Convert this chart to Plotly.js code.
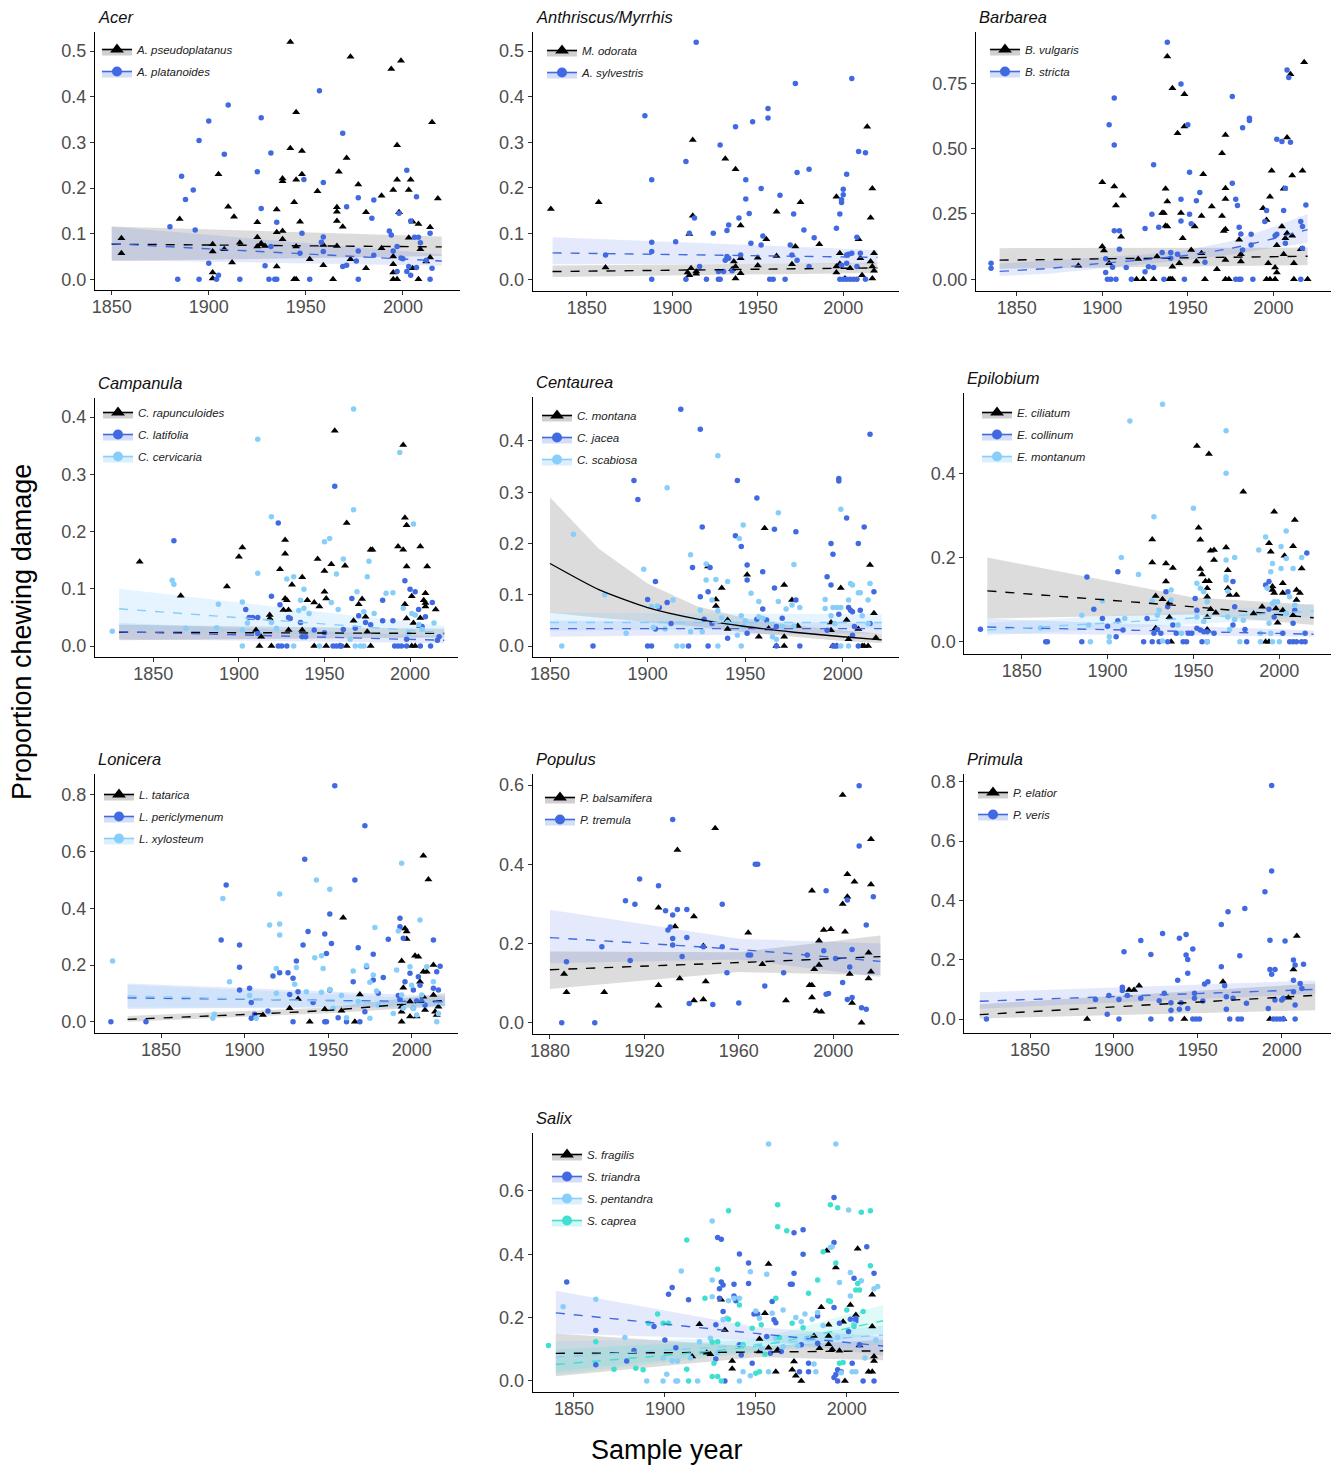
<!DOCTYPE html>
<html><head><meta charset="utf-8">
<script src="https://cdn.plot.ly/plotly-3.0.1.min.js"></script>
<style>body{margin:0;background:#fff}#chart{width:1332px;height:1467px}</style>
</head><body><div id="chart"></div>
<script>
// ---------- DATA: [year, proportion] ; fits: [year, fit, lower, upper] ----------
const acer_pseudo=[[1855,0.090],[1855,0.057],[1885,0.132],[1902,0.077],[1902,0.061],[1902,0.015],[1902,0.002],[1905,0.230],[1910,0.159],[1912,0.037],[1913,0.137],[1908,0.066],[1916,0.080],[1925,0.125],[1925,0.092],[1925,0.072],[1927,0.079],[1929,0.073],[1935,0.153],[1935,0.103],[1935,0.028],[1938,0.106],[1938,0.088],[1938,0.221],[1938,0.215],[1942,0.520],[1942,0.287],[1944,0.169],[1945,0.366],[1945,0.218],[1945,0.072],[1944,0],[1945,0],[1947,0.126],[1948,0.281],[1948,0.230],[1952,0.044],[1956,0.193],[1959,0.031],[1959,0.075],[1964,0],[1966,0.158],[1966,0.148],[1966,0.128],[1966,0.073],[1967,0.236],[1969,0.115],[1971,0.266],[1973,0.488],[1973,0.044],[1977,0.208],[1981,0.147],[1981,0.024],[1989,0.183],[1989,0.068],[1994,0.461],[1995,0.196],[1995,0.050],[1995,0.033],[1995,0.015],[1995,0],[1997,0],[1997,0.294],[1997,0.218],[1998,0.147],[1999,0.479],[2003,0.091],[2003,0.196],[2004,0.218],[2005,0.126],[2005,0.024],[2008,0.121],[2008,0],[2009,0.066],[2012,0.039],[2014,0.114],[2014,0.048],[2015,0.344],[2018,0.177]];
const acer_plat=[[1880,0.115],[1884,0],[1886,0.226],[1888,0.175],[1892,0.196],[1893,0.108],[1895,0.304],[1895,0],[1900,0.347],[1900,0.035],[1904,0],[1905,0.009],[1908,0.274],[1910,0.382],[1916,0],[1925,0.236],[1927,0.354],[1927,0.155],[1929,0.030],[1931,0],[1934,0],[1935,0],[1932,0.277],[1932,0.072],[1935,0.125],[1948,0.101],[1949,0.219],[1947,0.057],[1952,0],[1957,0.413],[1958,0.081],[1959,0.093],[1959,0.212],[1959,0.061],[1969,0.320],[1969,0.028],[1971,0.031],[1971,0.159],[1976,0.040],[1977,0.179],[1977,0],[1977,0.062],[1985,0.174],[1985,0.053],[1984,0.134],[1993,0.106],[1994,0.097],[1995,0.062],[1997,0.017],[1997,0.072],[1998,0.145],[1999,0.047],[2000,0.045],[2002,0.239],[2002,0.017],[2003,0.028],[2004,0.128],[2004,0.009],[2006,0.092],[2007,0.026],[2007,0.181],[2008,0.092],[2009,0.080],[2012,0.042],[2014,0.101],[2014,0],[2015,0.024]];
const acer_pseudo_fit=[[1850,0.077,0.040,0.116],[2020,0.071,0.051,0.094]];
const acer_plat_fit=[[1850,0.078,0.042,0.115],[2020,0.040,0.030,0.055]];

const anth_odorata=[[1829,0.154],[1857,0.169],[1861,0.026],[1909,0.015],[1910,0.009],[1911,0.024],[1910,0.099],[1912,0.305],[1912,0.139],[1914,0.017],[1914,0.012],[1931,0.264],[1935,0.022],[1936,0.039],[1937,0.241],[1937,0.002],[1937,0.028],[1940,0.118],[1940,0.046],[1940,0.013],[1950,0.047],[1950,0.030],[1955,0.088],[1961,0.148],[1961,0.051],[1970,0.033],[1972,0.072],[1975,0.169],[1986,0.077],[1996,0.181],[1996,0.015],[1996,0.028],[1998,0.057],[1998,0.034],[2001,0.002],[2004,0.024],[2009,0.088],[2010,0.046],[2011,0.009],[2014,0.334],[2016,0.135],[2017,0.199],[2016,0.039],[2017,0.028],[2018,0.057],[2018,0.019],[2017,0.002]];
const anth_sylvestris=[[1861,0.053],[1884,0.358],[1888,0.218],[1888,0.081],[1888,0.061],[1888,0],[1902,0.082],[1908,0.258],[1908,0],[1910,0.101],[1913,0.134],[1914,0.519],[1916,0.028],[1920,0],[1924,0.101],[1927,0],[1928,0],[1927,0.017],[1928,0.294],[1930,0.017],[1931,0.042],[1932,0.107],[1933,0.119],[1932,0.050],[1933,0.046],[1935,0.019],[1937,0.334],[1939,0.134],[1940,0.053],[1943,0.218],[1943,0.176],[1945,0.144],[1947,0.345],[1946,0.079],[1952,0.199],[1952,0.075],[1953,0.095],[1956,0.374],[1956,0.353],[1957,0],[1959,0],[1963,0.184],[1966,0],[1969,0.075],[1970,0.053],[1971,0.143],[1972,0.429],[1973,0.042],[1973,0.234],[1977,0.108],[1980,0.241],[1980,0.028],[1983,0.091],[1996,0.112],[1998,0.143],[1999,0.168],[1999,0.174],[2000,0.185],[2000,0.197],[2002,0.230],[2002,0.053],[1998,0],[2000,0],[2002,0],[2004,0],[2006,0],[2008,0],[1999,0.031],[2002,0.035],[2003,0.055],[2005,0.440],[2005,0.057],[2008,0.092],[2009,0.280],[2008,0.028],[2010,0.057],[2013,0.277],[2013,0]];
const anth_odorata_fit=[[1830,0.017,0.005,0.030],[2020,0.025,0.014,0.036]];
const anth_sylvestris_fit=[[1830,0.058,0.033,0.092],[2020,0.048,0.035,0.064]];

const barb_vulgaris=[[1900,0.371],[1900,0.125],[1901,0.110],[1904,0.061],[1907,0.355],[1908,0.282],[1912,0.319],[1911,0.163],[1886,0.052],[1920,0],[1924,0],[1930,0],[1921,0.077],[1932,0.087],[1935,0.253],[1936,0.253],[1937,0.346],[1938,0.297],[1937,0.205],[1938,0.202],[1938,0.852],[1939,0],[1941,0],[1940,0],[1941,0.731],[1941,0.048],[1944,0.559],[1946,0.253],[1945,0.061],[1947,0.157],[1948,0.708],[1948,0.584],[1952,0.112],[1954,0.202],[1955,0.068],[1958,0.242],[1959,0.402],[1958,0.099],[1960,0],[1964,0.278],[1967,0.038],[1970,0.242],[1970,0.482],[1971,0.185],[1972,0.191],[1972,0.552],[1972,0.348],[1972,0.307],[1972,0.074],[1972,0],[1974,0],[1980,0.151],[1981,0.068],[1981,0.096],[1994,0.272],[1996,0.227],[1997,0.061],[1996,0],[1998,0],[2001,0],[1998,0.316],[1999,0.415],[2001,0.045],[2002,0.130],[2002,0.026],[2005,0.202],[2006,0.096],[2006,0.346],[2007,0.157],[2008,0.176],[2008,0.542],[2010,0.784],[2011,0.397],[2011,0.166],[2012,0.061],[2012,0],[2017,0.415],[2018,0.830],[2020,0],[2016,0.115]];
const barb_stricta=[[1835,0.061],[1835,0.042],[1902,0.078],[1902,0.026],[1904,0.591],[1903,0],[1905,0],[1908,0],[1906,0.046],[1907,0.693],[1907,0.514],[1907,0.186],[1910,0.186],[1910,0.115],[1914,0.045],[1917,0],[1925,0.194],[1925,0.029],[1927,0.048],[1929,0.249],[1930,0.438],[1930,0.045],[1933,0.199],[1935,0.102],[1936,0],[1938,0.907],[1940,0.102],[1940,0.080],[1944,0.096],[1946,0.747],[1946,0.306],[1946,0.223],[1948,0],[1950,0.591],[1951,0.249],[1952,0.212],[1951,0.409],[1955,0.300],[1957,0.332],[1960,0.065],[1976,0.367],[1976,0.699],[1978,0.306],[1979,0.282],[1978,0],[1980,0],[1981,0],[1980,0.199],[1981,0.173],[1982,0.112],[1982,0.580],[1986,0.616],[1986,0.607],[1987,0.172],[1987,0.131],[1988,0],[1995,0.221],[1996,0.263],[2002,0.536],[2001,0.166],[2002,0.172],[2005,0.527],[2006,0.263],[2007,0.138],[2007,0.348],[2008,0.801],[2009,0.772],[2010,0.524],[2016,0.221],[2017,0.202],[2017,0.119],[2016,0],[2019,0.284]];
const barb_vulgaris_fit=[[1840,0.073,0.040,0.119],[2020,0.088,0.054,0.121]];
const barb_stricta_fit=[[1840,0.030,0.012,0.060],[1870,0.042,0.022,0.072],[1900,0.061,0.042,0.085],[1925,0.075,0.058,0.095],[1950,0.092,0.074,0.112],[1975,0.118,0.095,0.145],[2000,0.155,0.120,0.200],[2020,0.190,0.140,0.250]];

const camp_rapunc=[[1842,0.147],[1866,0.088],[1893,0.104],[1900,0.156],[1902,0.172],[1910,0.028],[1912,0],[1913,0.016],[1918,0.054],[1918,0.048],[1919,0],[1924,0.134],[1927,0.185],[1927,0.161],[1927,0.083],[1928,0.080],[1929,0.063],[1929,0.028],[1926,0.063],[1931,0.107],[1937,0.120],[1937,0.028],[1940,0.080],[1944,0],[1944,0.076],[1946,0.152],[1947,0.069],[1950,0.095],[1950,0.131],[1951,0.083],[1951,0],[1954,0.143],[1956,0.376],[1959,0],[1962,0.140],[1963,0.215],[1963,0],[1967,0.044],[1970,0.073],[1972,0.082],[1974,0.051],[1977,0.168],[1978,0.168],[1977,0],[1975,0.025],[1993,0.174],[1996,0.168],[1996,0.351],[1997,0.073],[1997,0.224],[1998,0.211],[1998,0.048],[1998,0.139],[2001,0.087],[2001,0],[2003,0],[2002,0.040],[2006,0.174],[2006,0.049],[2006,0.035],[2008,0.080],[2009,0.092],[2009,0.075],[2009,0.069],[2010,0.139],[2015,0.064]];
const camp_latifolia=[[1862,0.184],[1904,0.064],[1906,0.050],[1908,0.050],[1911,0.050],[1911,0.022],[1919,0.087],[1923,0.215],[1924,0.072],[1923,0],[1925,0],[1928,0],[1929,0.050],[1930,0.048],[1936,0.041],[1937,0.016],[1939,0.016],[1944,0.028],[1950,0.023],[1955,0],[1957,0],[1959,0],[1960,0],[1956,0.279],[1961,0.029],[1966,0.083],[1968,0.031],[1970,0.053],[1974,0.041],[1977,0.037],[1984,0.080],[1984,0.044],[1991,0],[1993,0],[1995,0],[1998,0],[1990,0.044],[1997,0.114],[1998,0.012],[2000,0.099],[2003,0.095],[2005,0.064],[2006,0],[2012,0],[2007,0.034],[2009,0.051],[2013,0.076],[2016,0.010],[2017,0.016]];
const camp_cervicaria=[[1826,0.026],[1861,0.115],[1862,0.108],[1869,0.031],[1888,0.073],[1887,0.032],[1902,0],[1902,0.077],[1902,0.028],[1905,0.040],[1911,0.361],[1911,0.127],[1919,0.226],[1919,0.041],[1922,0.031],[1928,0.117],[1932,0.121],[1932,0],[1935,0.062],[1936,0.080],[1938,0.099],[1938,0.066],[1941,0.057],[1947,0],[1950,0.182],[1953,0.188],[1954,0.076],[1957,0.126],[1958,0.064],[1961,0.152],[1965,0.012],[1967,0.414],[1967,0.238],[1968,0],[1971,0],[1973,0],[1969,0.095],[1976,0.148],[1975,0.121],[1973,0.060],[1979,0.057],[1986,0.092],[1990,0.093],[1994,0.338],[1996,0.066],[2002,0.213],[2001,0.057],[2003,0.054],[2005,0.037],[2007,0.029],[2014,0.040],[1999,0.022]];
const camp_rapunc_fit=[[1830,0.024,0.010,0.037],[2020,0.022,0.015,0.030]];
const camp_latifolia_fit=[[1830,0.025,0.012,0.040],[2020,0.010,0.005,0.017]];
const camp_cervicaria_fit=[[1830,0.065,0.030,0.100],[2020,0.023,0.015,0.035]];

const cent_montana=[[1931,0.155],[1935,0.091],[1935,0.078],[1938,0.113],[1941,0.051],[1941,0.033],[1951,0.139],[1957,0.018],[1960,0.230],[1962,0.034],[1966,0],[1970,0],[1970,0.018],[1970,0.119],[1974,0.090],[1977,0.039],[1994,0.046],[1994,0.031],[1995,0],[1997,0],[1999,0.113],[2002,0.051],[2003,0.013],[2008,0.033],[2010,0],[2011,0],[2013,0],[2014,0.158],[2016,0.064],[2017,0.016]];
const cent_jacea=[[1872,0],[1893,0.323],[1895,0.286],[1900,0.091],[1900,0],[1902,0],[1904,0.126],[1904,0.033],[1906,0.075],[1910,0.085],[1912,0.044],[1917,0.462],[1921,0],[1923,0.153],[1927,0.423],[1927,0.096],[1928,0.232],[1929,0.052],[1931,0.106],[1932,0.153],[1931,0],[1933,0.044],[1941,0.015],[1945,0.215],[1946,0.323],[1948,0.194],[1951,0.158],[1951,0.129],[1951,0.025],[1956,0.289],[1956,0.052],[1959,0.145],[1959,0.072],[1961,0.051],[1965,0.228],[1965,0.113],[1966,0],[1966,0.038],[1969,0.054],[1976,0.223],[1976,0.090],[1978,0],[1992,0.135],[1992,0.031],[1994,0.119],[1994,0.200],[1995,0.179],[1997,0],[1995,0],[1996,0],[1998,0.322],[1998,0.327],[1998,0.062],[2002,0.250],[2003,0.075],[2004,0.070],[2005,0.067],[2006,0.038],[2005,0.021],[2008,0.200],[2009,0.070],[2011,0.232],[2014,0.413],[2016,0.106],[2014,0.044],[2008,0]];
const cent_scabiosa=[[1856,0],[1862,0.218],[1878,0.100],[1889,0.025],[1898,0.150],[1902,0.077],[1903,0.036],[1905,0.078],[1909,0.033],[1910,0.309],[1913,0.090],[1915,0],[1918,0],[1922,0.028],[1922,0.178],[1927,0.070],[1928,0.028],[1930,0.160],[1930,0.129],[1935,0.130],[1936,0],[1936,0.069],[1933,0.090],[1936,0.371],[1938,0.055],[1941,0.046],[1941,0.126],[1946,0.021],[1947,0.210],[1948,0.059],[1948,0],[1949,0.236],[1949,0.038],[1950,0.049],[1953,0.103],[1957,0.087],[1957,0.057],[1959,0.054],[1964,0.018],[1966,0.013],[1967,0.260],[1967,0.087],[1969,0.038],[1971,0.072],[1975,0.159],[1974,0.080],[1975,0.039],[1978,0.075],[1991,0.091],[1991,0.073],[1994,0.059],[1995,0.075],[1996,0.044],[1997,0.075],[1999,0.075],[1999,0.267],[2003,0.090],[2004,0.122],[2005,0.119],[2003,0],[2008,0.104],[2009,0.104],[2010,0.059],[2013,0.090],[2014,0.122],[2013,0.044],[1999,0]];
const cent_montana_fit=[[1850,0.161,0.065,0.290],[1875,0.110,0.055,0.190],[1900,0.075,0.047,0.122],[1925,0.053,0.038,0.078],[1950,0.038,0.027,0.054],[1975,0.027,0.018,0.040],[2000,0.018,0.010,0.031],[2020,0.012,0.006,0.024]];
const cent_jacea_fit=[[1850,0.034,0.018,0.050],[2020,0.034,0.025,0.045]];
const cent_scabiosa_fit=[[1850,0.046,0.030,0.065],[2020,0.046,0.035,0.062]];

const epil_ciliatum=[[1926,0.243],[1926,0.188],[1928,0.109],[1928,0.032],[1932,0.101],[1934,0.186],[1934,0.143],[1936,0.093],[1936,0.058],[1938,0.175],[1937,0],[1953,0.271],[1952,0.465],[1954,0.242],[1954,0.173],[1955,0.160],[1957,0.144],[1959,0.144],[1958,0.127],[1958,0.107],[1958,0.059],[1958,0.029],[1959,0.446],[1960,0.077],[1960,0.216],[1962,0.194],[1962,0.218],[1963,0.069],[1969,0.224],[1970,0.170],[1970,0.127],[1971,0.111],[1975,0.111],[1979,0.356],[1985,0.067],[1990,0.083],[1992,0],[1994,0],[1994,0.234],[1995,0.214],[1996,0.131],[1996,0.123],[1997,0.116],[1997,0.309],[1998,0.079],[1999,0.045],[2002,0.139],[2002,0.075],[2002,0.116],[2003,0.204],[2008,0.227],[2009,0.289],[2010,0.099],[2010,0.123],[2012,0.116],[2013,0.174],[2008,0.063]];
const epil_collinum=[[1826,0.030],[1864,0],[1865,0],[1885,0],[1888,0.154],[1892,0.077],[1897,0.055],[1900,0.037],[1905,0.012],[1906,0.050],[1906,0.166],[1909,0.028],[1921,0],[1926,0],[1930,0],[1935,0],[1944,0],[1946,0],[1955,0],[1958,0],[1923,0.055],[1927,0.020],[1931,0.020],[1929,0.029],[1934,0.119],[1935,0.083],[1938,0.040],[1940,0.020],[1947,0.020],[1949,0.020],[1951,0.103],[1952,0.075],[1952,0.032],[1954,0.028],[1956,0.024],[1958,0.024],[1962,0.020],[1973,0.143],[1973,0.040],[1974,0.083],[1980,0.029],[1981,0],[1992,0.135],[1994,0.143],[1994,0.077],[1997,0.059],[2002,0.020],[2005,0.119],[2006,0],[2008,0],[2010,0],[2013,0],[2015,0],[2008,0.044],[2009,0.075],[2015,0.020],[2016,0.211]];
const epil_montanum=[[1861,0.033],[1885,0.063],[1890,0],[1889,0.040],[1897,0.097],[1901,0.012],[1901,0],[1908,0.200],[1910,0.055],[1913,0.524],[1918,0.160],[1927,0.297],[1926,0.097],[1929,0.063],[1930,0.075],[1932,0.564],[1932,0.002],[1937,0.099],[1937,0.123],[1941,0.040],[1943,0.020],[1950,0.317],[1952,0.139],[1952,0.059],[1954,0.127],[1956,0.119],[1956,0.048],[1958,0],[1958,0.095],[1969,0.501],[1969,0.400],[1969,0.194],[1969,0.154],[1969,0.147],[1970,0.120],[1970,0.059],[1971,0.029],[1974,0.053],[1974,0.200],[1977,0],[1979,0.051],[1988,0.218],[1992,0.249],[1993,0.127],[1995,0.166],[1996,0.186],[1994,0.044],[1996,0.091],[1997,0.095],[1999,0.095],[2001,0.174],[2001,0.226],[2004,0.263],[2004,0.198],[2004,0.067],[2006,0.107],[2008,0.174],[2009,0.087],[2013,0.200],[2000,0],[1996,0],[1989,0],[1995,0.020],[1989,0.020]];
const epil_ciliatum_fit=[[1830,0.121,0.055,0.200],[1950,0.083,0.065,0.105],[2020,0.057,0.040,0.088]];
const epil_collinum_fit=[[1830,0.035,0.020,0.055],[2020,0.018,0.012,0.027]];
const epil_montanum_fit=[[1830,0.028,0.015,0.045],[2020,0.073,0.058,0.090]];

const loni_tatarica=[[1911,0.024],[1927,0.047],[1932,0.080],[1939,0],[1948,0.044],[1959,0.367],[1958,0.039],[1966,0],[1969,0.096],[1994,0.214],[1994,0.053],[1994,0.035],[1994,0],[1995,0.120],[1996,0.329],[1997,0.318],[1997,0.292],[1999,0.071],[1999,0.018],[2002,0.233],[2004,0.229],[2003,0.018],[2005,0.141],[2007,0.586],[2007,0.176],[2009,0.176],[2007,0.088],[2008,0.041],[2010,0.502],[2013,0.200],[2013,0.094],[2014,0.035],[2015,0.024],[2016,0.053]];
const loni_pericly=[[1820,0],[1841,0],[1886,0.288],[1889,0.482],[1897,0.271],[1897,0.192],[1897,0.112],[1903,0.118],[1904,0.068],[1904,0.012],[1906,0.026],[1914,0.038],[1917,0.161],[1921,0.173],[1926,0.173],[1927,0.096],[1929,0.153],[1929,0],[1931,0.214],[1932,0.106],[1935,0.271],[1936,0.573],[1938,0.318],[1941,0.068],[1948,0.309],[1949,0.241],[1948,0],[1949,0],[1951,0.380],[1952,0.276],[1951,0.112],[1954,0.833],[1956,0.014],[1961,0],[1965,0.141],[1966,0.500],[1968,0.261],[1969,0],[1972,0.691],[1972,0.035],[1973,0.194],[1977,0.238],[1977,0.147],[1980,0.100],[1983,0.156],[1986,0.291],[1993,0.365],[1993,0.335],[1992,0.092],[1993,0.079],[1995,0.294],[1996,0.141],[1999,0.171],[2001,0.112],[2001,0.047],[2003,0.073],[2004,0.159],[2005,0.129],[2006,0.071],[2008,0.059],[2013,0.288],[2015,0.176],[2016,0.112],[2017,0.196],[2013,0.118]];
const loni_xylost=[[1821,0.214],[1881,0.012],[1882,0.026],[1887,0.435],[1891,0.141],[1903,0.092],[1907,0.012],[1915,0.341],[1919,0.188],[1919,0.100],[1921,0.345],[1921,0.306],[1921,0.451],[1931,0.191],[1930,0.132],[1937,0.106],[1942,0.226],[1943,0.500],[1946,0.233],[1947,0.188],[1946,0.104],[1951,0.467],[1951,0.114],[1953,0.047],[1958,0.092],[1961,0.014],[1965,0.179],[1968,0.071],[1973,0.198],[1975,0.139],[1975,0.012],[1977,0.165],[1978,0.332],[1979,0.108],[1980,0.059],[1989,0.029],[1991,0.182],[1992,0.320],[1994,0.559],[1994,0.094],[1995,0.047],[1999,0.194],[2000,0.129],[2001,0.047],[2003,0.024],[2005,0.359],[2006,0.094],[2009,0.194],[2013,0.141],[2015,0],[2016,0.029]];
const loni_tatarica_fit=[[1830,0.008,0.000,0.020],[1950,0.040,0.030,0.050],[2020,0.075,0.055,0.100]];
const loni_pericly_fit=[[1830,0.084,0.045,0.135],[2020,0.070,0.055,0.090]];
const loni_xylost_fit=[[1830,0.091,0.050,0.130],[2020,0.062,0.048,0.080]];

const popu_balsam=[[1886,0.123],[1887,0.077],[1903,0.077],[1926,0.290],[1926,0.095],[1926,0.043],[1933,0.243],[1934,0.436],[1935,0.112],[1941,0.268],[1941,0.056],[1945,0.059],[1945,0.194],[1946,0.104],[1950,0.491],[1964,0.227],[1970,0.148],[1980,0.056],[1991,0.333],[1990,0.095],[1991,0.095],[1991,0.064],[1992,0.135],[1994,0.146],[1994,0.207],[1993,0.030],[1995,0.028],[1996,0.234],[1999,0.236],[2004,0.300],[2004,0.575],[2005,0.230],[2006,0.375],[2006,0.318],[2007,0.123],[2008,0.050],[2009,0.356],[2012,0],[2015,0.112],[2015,0.177],[2016,0.463],[2016,0.349],[2016,0.129]];
const popu_tremula=[[1885,0],[1887,0.154],[1899,0],[1902,0.192],[1912,0.308],[1914,0.157],[1916,0.299],[1918,0.363],[1926,0.346],[1929,0.283],[1930,0.234],[1931,0.242],[1932,0.272],[1932,0.213],[1932,0.196],[1932,0.513],[1934,0.286],[1936,0.167],[1938,0.215],[1938,0.286],[1939,0.049],[1945,0.192],[1949,0.046],[1953,0.299],[1953,0.192],[1955,0.126],[1960,0.050],[1964,0.171],[1965,0.171],[1967,0.400],[1968,0.400],[1971,0.093],[1979,0.126],[1989,0.171],[1997,0.333],[1997,0.072],[1998,0.074],[1996,0.182],[2001,0.162],[2004,0.102],[2006,0.310],[2006,0.059],[2007,0.141],[2008,0.185],[2008,0.064],[2011,0.598],[2011,0.446],[2012,0.038],[2014,0.247],[2014,0.034],[2017,0.318]];
const popu_balsam_fit=[[1880,0.134,0.085,0.180],[1960,0.152,0.128,0.178],[2020,0.167,0.120,0.220]];
const popu_tremula_fit=[[1880,0.215,0.150,0.285],[1960,0.185,0.160,0.212],[2020,0.155,0.115,0.200]];

const prim_elatior=[[1884,0],[1909,0.098],[1912,0.098],[1915,0.112],[1942,0],[1965,0.126],[1993,0],[2001,0],[2004,0.072],[2007,0.167],[2009,0.280]];
const prim_veris=[[1824,0],[1889,0.066],[1896,0.016],[1897,0.079],[1903,0],[1903,0.066],[1905,0.107],[1905,0.096],[1906,0.227],[1908,0.079],[1916,0.265],[1916,0.070],[1922,0.218],[1922,0],[1927,0.062],[1929,0.288],[1930,0.087],[1934,0],[1934,0.055],[1934,0.030],[1938,0.131],[1939,0.272],[1940,0.055],[1939,0.033],[1943,0.285],[1943,0.216],[1944,0.201],[1944,0.154],[1944,0.036],[1947,0.236],[1948,0.087],[1948,0.070],[1947,0],[1949,0],[1951,0],[1953,0.061],[1954,0.118],[1956,0.126],[1964,0.319],[1964,0.176],[1966,0.112],[1967,0.033],[1967,0.075],[1968,0.362],[1969,0],[1971,0.070],[1974,0],[1976,0],[1975,0.213],[1978,0.373],[1979,0.053],[1990,0.429],[1992,0.036],[1993,0.266],[1994,0.499],[1994,0.787],[1993,0.167],[1994,0.151],[1996,0.167],[1995,0],[1997,0],[1999,0],[2001,0],[1996,0.064],[2000,0.064],[2001,0.070],[2002,0.263],[2007,0.199],[2008,0.182],[2007,0.131],[2007,0.092],[2008,0.047],[2008,0],[2011,0.120],[2012,0.103],[2013,0.185]];
const prim_elatior_fit=[[1820,0.015,0.002,0.050],[2020,0.080,0.030,0.120]];
const prim_veris_fit=[[1820,0.060,0.035,0.090],[2020,0.100,0.085,0.130]];

const salix_fragilis=[[1915,0.077],[1919,0.179],[1923,0.089],[1925,0.084],[1931,0.256],[1933,0.161],[1937,0.063],[1937,0.038],[1952,0.132],[1952,0.093],[1955,0.214],[1957,0.369],[1957,0.105],[1961,0.029],[1962,0.098],[1970,0.035],[1971,0.061],[1972,0.016],[1975,0],[1982,0.142],[1985,0.103],[1986,0.233],[1989,0.411],[1990,0.142],[1990,0.177],[1990,0.116],[1992,0.100],[1994,0.358],[1996,0.095],[1998,0.187],[1999,0],[2002,0.240],[2005,0.208],[2006,0.417],[2007,0.112],[2012,0.029],[2014,0.272],[2014,0.172],[2014,0.029],[2015,0.077],[2015,0.063]];
const salix_triandra=[[1846,0.312],[1862,0.159],[1862,0.051],[1879,0.063],[1883,0.096],[1894,0.172],[1900,0.129],[1902,0.274],[1904,0.295],[1906,0.105],[1913,0.256],[1928,0.177],[1928,0.069],[1929,0.453],[1931,0.447],[1930,0.291],[1931,0.312],[1930,0.261],[1932,0.303],[1932,0.219],[1933,0],[1938,0.305],[1938,0.268],[1939,0.253],[1941,0.401],[1941,0.114],[1942,0.082],[1946,0.372],[1946,0.308],[1949,0.211],[1951,0.211],[1948,0.056],[1956,0.140],[1958,0.087],[1959,0.251],[1960,0.193],[1961,0.184],[1964,0.093],[1969,0.305],[1970,0.305],[1971,0.340],[1971,0.468],[1976,0.477],[1976,0.400],[1975,0.114],[1974,0.029],[1979,0.056],[1979,0.029],[1984,0.119],[1984,0.205],[1993,0.437],[1993,0.579],[1993,0.232],[1994,0.020],[1995,0],[1993,0.011],[1995,0.035],[1996,0.182],[1997,0.029],[2001,0.156],[2002,0.195],[2003,0.056],[2004,0.324],[2005,0.189],[2005,0.198],[2007,0.114],[2009,0],[2011,0.424],[2015,0.340],[2015,0]];
const salix_pentandra=[[1844,0.234],[1862,0.258],[1878,0.137],[1890,0],[1899,0],[1901,0.021],[1899,0.072],[1904,0.063],[1906,0],[1907,0],[1907,0.063],[1909,0.347],[1914,0.072],[1919,0.124],[1918,0],[1926,0.505],[1926,0.319],[1926,0.266],[1925,0.135],[1929,0.089],[1932,0.193],[1934,0.198],[1935,0.253],[1938,0.261],[1941,0],[1941,0.261],[1943,0.029],[1947,0.016],[1947,0.345],[1950,0.221],[1952,0.198],[1953,0.103],[1956,0.337],[1957,0.748],[1957,0.029],[1959,0.214],[1961,0.135],[1965,0.224],[1965,0.108],[1972,0.200],[1973,0.111],[1975,0.187],[1977,0.211],[1978,0.135],[1981,0.195],[1982,0.053],[1983,0.029],[1984,0.216],[1987,0.175],[1991,0.421],[1992,0.424],[1994,0.748],[1995,0.137],[1996,0.311],[1997,0.026],[2001,0.540],[2002,0.342],[2002,0.268],[2003,0.029],[2004,0.179],[2005,0.029],[2008,0.316],[2010,0.072],[2015,0.291],[2017,0.298],[2016,0.129]];
const salix_caprea=[[1836,0.112],[1862,0.124],[1872,0.037],[1884,0.040],[1888,0.035],[1896,0.211],[1891,0.182],[1899,0.182],[1902,0.182],[1912,0.445],[1912,0.037],[1913,0],[1922,0.261],[1926,0.122],[1927,0.056],[1926,0.014],[1929,0.353],[1929,0.014],[1931,0],[1929,0.124],[1935,0.537],[1935,0.195],[1940,0.179],[1941,0.240],[1943,0.114],[1948,0.166],[1950,0.024],[1952,0.029],[1953,0.177],[1955,0.084],[1961,0.261],[1962,0.556],[1962,0.487],[1963,0.137],[1967,0.474],[1970,0.182],[1976,0.168],[1979,0.277],[1984,0.319],[1987,0.408],[1991,0.556],[1990,0.253],[1991,0.251],[1994,0.372],[1995,0.547],[1996,0.056],[1998,0.058],[2005,0.287],[2006,0.308],[2007,0.287],[2008,0.533],[2013,0.537],[2013,0.364],[2009,0.219],[2000,0.224],[2004,0.172]];
const salix_fragilis_fit=[[1840,0.087,0.015,0.150],[1950,0.091,0.075,0.108],[2020,0.095,0.065,0.130]];
const salix_triandra_fit=[[1840,0.215,0.150,0.285],[1950,0.150,0.130,0.170],[2020,0.110,0.080,0.140]];
const salix_pentandra_fit=[[1840,0.075,0.030,0.125],[1950,0.115,0.095,0.135],[2020,0.145,0.115,0.175]];
const salix_caprea_fit=[[1840,0.052,0.020,0.100],[1950,0.110,0.090,0.130],[2020,0.190,0.150,0.240]];

const ticks50=[1850,1900,1950,2000];
const ticks40=[1880,1920,1960,2000];

// ---------- STYLE / LAYOUT ----------
const W=1332,H=1467;
const FONT='"Liberation Sans", Arial, sans-serif';
const STY={
  tri:{color:'#000000',symbol:'triangle-up',size:7,band:'rgba(140,140,140,0.30)',lkey:'rgba(150,150,150,0.45)'},
  royal:{color:'#4169E1',symbol:'circle',size:5.5,band:'rgba(65,105,225,0.14)',lkey:'rgba(65,105,225,0.22)'},
  light:{color:'#87CEFA',symbol:'circle',size:5.5,band:'rgba(135,206,250,0.22)',lkey:'rgba(135,206,250,0.30)'},
  turq:{color:'#40E0D0',symbol:'circle',size:5.5,band:'rgba(64,224,208,0.16)',lkey:'rgba(64,224,208,0.25)'}
};
const panels=[
 {title:'Acer',box:[95,460,32,290],xr:[1841.4,2029.4],yr:[-0.0234,0.542],xt:ticks50,yt:[0,0.1,0.2,0.3,0.4,0.5],yf:'.1f',leg:[97,35],
  series:[{name:'A. pseudoplatanus',pts:acer_pseudo,fit:acer_pseudo_fit,kind:'tri'},{name:'A. platanoides',pts:acer_plat,fit:acer_plat_fit,kind:'royal'}]},
 {title:'Anthriscus/Myrrhis',box:[532.7,899,32,291],xr:[1818.4,2032.6],yr:[-0.0256,0.5416],xt:ticks50,yt:[0,0.1,0.2,0.3,0.4,0.5],yf:'.1f',leg:[542,36],
  series:[{name:'M. odorata',pts:anth_odorata,fit:anth_odorata_fit,kind:'tri'},{name:'A. sylvestris',pts:anth_sylvestris,fit:anth_sylvestris_fit,kind:'royal'}]},
 {title:'Barbarea',box:[976,1330.7,32,291],xr:[1826.2,2033.5],yr:[-0.045,0.946],xt:ticks50,yt:[0,0.25,0.5,0.75],yf:'.2f',leg:[985,35],
  series:[{name:'B. vulgaris',pts:barb_vulgaris,fit:barb_vulgaris_fit,kind:'tri'},{name:'B. stricta',pts:barb_stricta,fit:barb_stricta_fit,kind:'royal'}]},
 {title:'Campanula',box:[95,458.3,398.3,657.3],xr:[1815.9,2028.2],yr:[-0.0197,0.4327],xt:ticks50,yt:[0,0.1,0.2,0.3,0.4],yf:'.1f',leg:[98,398],
  series:[{name:'C. rapunculoides',pts:camp_rapunc,fit:camp_rapunc_fit,kind:'tri'},{name:'C. latifolia',pts:camp_latifolia,fit:camp_latifolia_fit,kind:'royal'},{name:'C. cervicaria',pts:camp_cervicaria,fit:camp_cervicaria_fit,kind:'light'}]},
 {title:'Centaurea',box:[532.7,899.3,396.7,657.3],xr:[1841.1,2029],yr:[-0.022,0.4864],xt:ticks50,yt:[0,0.1,0.2,0.3,0.4],yf:'.1f',leg:[537,401],
  series:[{name:'C. montana',pts:cent_montana,fit:cent_montana_fit,kind:'tri',solid:true},{name:'C. jacea',pts:cent_jacea,fit:cent_jacea_fit,kind:'royal'},{name:'C. scabiosa',pts:cent_scabiosa,fit:cent_scabiosa_fit,kind:'light'}]},
 {title:'Epilobium',box:[964.3,1330.7,393.3,654],xr:[1816.6,2029.9],yr:[-0.029,0.59],xt:ticks50,yt:[0,0.2,0.4],yf:'.1f',leg:[977,398],
  series:[{name:'E. ciliatum',pts:epil_ciliatum,fit:epil_ciliatum_fit,kind:'tri'},{name:'E. collinum',pts:epil_collinum,fit:epil_collinum_fit,kind:'royal'},{name:'E. montanum',pts:epil_montanum,fit:epil_montanum_fit,kind:'light'}]},
 {title:'Lonicera',box:[95,458.3,774.3,1033.3],xr:[1810.5,2027.9],yr:[-0.041,0.873],xt:ticks50,yt:[0,0.2,0.4,0.6,0.8],yf:'.1f',leg:[99,780],
  series:[{name:'L. tatarica',pts:loni_tatarica,fit:loni_tatarica_fit,kind:'tri'},{name:'L. periclymenum',pts:loni_pericly,fit:loni_pericly_fit,kind:'royal'},{name:'L. xylosteum',pts:loni_xylost,fit:loni_xylost_fit,kind:'light'}]},
 {title:'Populus',box:[532.7,899.3,774.3,1034.3],xr:[1872.7,2028],yr:[-0.029,0.627],xt:ticks40,yt:[0,0.2,0.4,0.6],yf:'.1f',leg:[540,783],
  series:[{name:'P. balsamifera',pts:popu_balsam,fit:popu_balsam_fit,kind:'tri'},{name:'P. tremula',pts:popu_tremula,fit:popu_tremula_fit,kind:'royal'}]},
 {title:'Primula',box:[964.3,1330.7,774.3,1033.3],xr:[1810.8,2029.2],yr:[-0.048,0.825],xt:ticks50,yt:[0,0.2,0.4,0.6,0.8],yf:'.1f',leg:[973,778],
  series:[{name:'P. elatior',pts:prim_elatior,fit:prim_elatior_fit,kind:'tri'},{name:'P. veris',pts:prim_veris,fit:prim_veris_fit,kind:'royal'}]},
 {title:'Salix',box:[532.7,899.3,1133.3,1392.3],xr:[1827.3,2028.9],yr:[-0.036,0.782],xt:ticks50,yt:[0,0.2,0.4,0.6],yf:'.1f',leg:[547,1140],
  series:[{name:'S. fragilis',pts:salix_fragilis,fit:salix_fragilis_fit,kind:'tri'},{name:'S. triandra',pts:salix_triandra,fit:salix_triandra_fit,kind:'royal'},{name:'S. pentandra',pts:salix_pentandra,fit:salix_pentandra_fit,kind:'light'},{name:'S. caprea',pts:salix_caprea,fit:salix_caprea_fit,kind:'turq'}]}
];

const traces=[];
const layout={width:W,height:H,margin:{l:0,r:0,t:0,b:0},paper_bgcolor:'#fff',plot_bgcolor:'rgba(0,0,0,0)',showlegend:true,annotations:[],font:{family:FONT}};
const axBase={showgrid:false,zeroline:false,showline:true,linecolor:'#000',linewidth:1,ticks:'outside',ticklen:4,tickwidth:1,tickcolor:'#333',
  tickfont:{family:FONT,size:18,color:'#4d4d4d'},fixedrange:true};

panels.forEach((p,i)=>{
  const n=i+1, sfx=(n===1?'':String(n));
  const xa='x'+sfx, ya='y'+sfx, lg='legend'+sfx;
  layout['xaxis'+sfx]=Object.assign({},axBase,{domain:[p.box[0]/W,p.box[1]/W],range:p.xr,anchor:ya,tickmode:'array',tickvals:p.xt,ticktext:p.xt.map(String),ticklabelstandoff:-4});
  layout['yaxis'+sfx]=Object.assign({},axBase,{domain:[1-p.box[3]/H,1-p.box[2]/H],range:p.yr,anchor:xa,tickmode:'array',tickvals:p.yt,tickformat:p.yf});
  layout[lg]={x:p.leg[0]/W,y:1-p.leg[1]/H,xanchor:'left',yanchor:'top',bgcolor:'rgba(0,0,0,0)',borderwidth:0,
    font:{family:FONT,size:11.5,color:'#222'},traceorder:'grouped',tracegroupgap:3,itemwidth:30,itemclick:false,itemdoubleclick:false};
  layout.annotations.push({xref:'paper',yref:'paper',x:(p.box[0]+1)/W,y:1-(p.box[2]-4)/H,xanchor:'left',yanchor:'bottom',showarrow:false,
    text:'<i>'+p.title+'</i>',font:{family:FONT,size:16.5,color:'#111'}});
  // ribbons
  p.series.forEach(s=>{
    const st=STY[s.kind];
    const yrs=s.fit.map(r=>r[0]);
    traces.push({type:'scatter',mode:'none',xaxis:xa,yaxis:ya,showlegend:false,hoverinfo:'skip',
      x:yrs.concat(yrs.slice().reverse()),y:s.fit.map(r=>r[3]).concat(s.fit.map(r=>r[2]).reverse()),
      fill:'toself',fillcolor:st.band,line:{width:0}});
  });
  // points
  p.series.forEach(s=>{
    const st=STY[s.kind];
    traces.push({type:'scatter',mode:'markers',xaxis:xa,yaxis:ya,showlegend:false,hoverinfo:'x+y',
      x:s.pts.map(r=>r[0]),y:s.pts.map(r=>r[1]),
      marker:{symbol:st.symbol,size:st.size,color:st.color,line:{width:0}}});
  });
  // fitted lines
  p.series.forEach(s=>{
    const st=STY[s.kind];
    traces.push({type:'scatter',mode:'lines',xaxis:xa,yaxis:ya,showlegend:false,hoverinfo:'skip',
      x:s.fit.map(r=>r[0]),y:s.fit.map(r=>r[1]),line:{color:st.color,width:1.4,dash:s.solid?'solid':'dash',shape:'spline',smoothing:0.6}});
  });
  // legend keys
  p.series.forEach((s,k)=>{
    const st=STY[s.kind];
    traces.push({type:'scatter',mode:'lines+markers',xaxis:xa,yaxis:ya,legend:lg,legendgroup:lg+'_'+k,name:'<i>'+s.name+'</i>',
      x:[null],y:[null],fill:'toself',fillcolor:st.lkey,line:{color:st.color,width:1.6},
      marker:{symbol:st.symbol,size:s.kind==='tri'?12:10,color:st.color},hoverinfo:'skip'});
  });
});

layout.annotations.push({xref:'paper',yref:'paper',x:22/W,y:1-632/H,xanchor:'center',yanchor:'middle',showarrow:false,textangle:-90,
  text:'Proportion chewing damage',font:{family:FONT,size:27,color:'#000'}});
layout.annotations.push({xref:'paper',yref:'paper',x:667/W,y:1-1450/H,xanchor:'center',yanchor:'middle',showarrow:false,
  text:'Sample year',font:{family:FONT,size:27,color:'#000'}});

Plotly.newPlot('chart',traces,layout,{staticPlot:true,displayModeBar:false});
</script>
</body></html>
